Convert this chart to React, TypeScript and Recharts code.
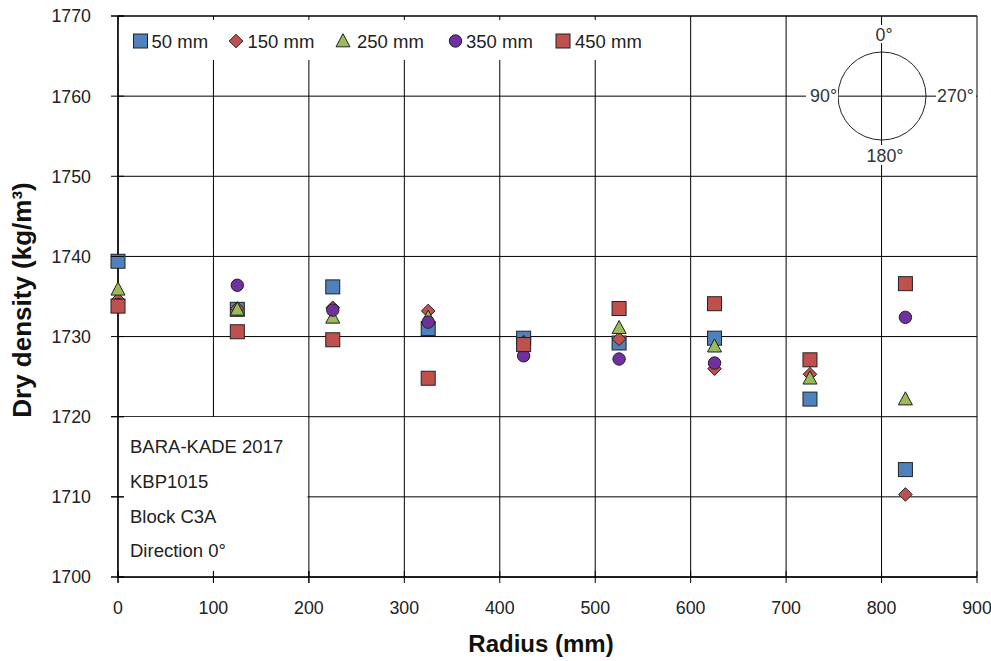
import React from "react";
import {
  ScatterChart,
  Scatter,
  XAxis,
  YAxis,
  CartesianGrid,
  Customized,
} from "recharts";

// values
const radius = [0, 125, 225, 325, 425, 525, 625, 725, 825];
const d50 = [1739.4, 1733.4, 1736.2, 1731.0, 1729.8, 1729.2, 1729.8, 1722.2, 1713.4];
const d150 = [1734.6, 1733.5, 1733.6, 1733.2, 1729.3, 1729.7, 1726.0, 1725.3, 1710.3];
const d250 = [1735.9, 1733.4, 1732.4, 1732.4, 1729.2, 1731.1, 1728.8, 1724.8, 1722.2];
const d350 = [1734.0, 1736.4, 1733.3, 1731.8, 1727.6, 1727.2, 1726.7, 1727.0, 1732.4];
const d450 = [1733.8, 1730.6, 1729.6, 1724.8, 1729.0, 1733.5, 1734.1, 1727.1, 1736.6];

const xTicks = [0, 100, 200, 300, 400, 500, 600, 700, 800, 900];
const yTicks = [1700, 1710, 1720, 1730, 1740, 1750, 1760, 1770];

const infoLines = ["BARA-KADE 2017", "KBP1015", "Block C3A", "Direction 0°"];

const FONT = "'Liberation Sans', Arial, sans-serif";
const LEFT = 118;
const TOP = 16;
const BOTTOM = 577;

const toPoints = (vals: number[]) => radius.map((r, i) => ({ r, v: vals[i] }));

const Square = ({ cx, cy, fill }: any) => (
  <rect x={cx - 7} y={cy - 7} width={14} height={14} fill={fill} stroke="#222" strokeWidth={1} />
);
const Diamond = ({ cx, cy, fill }: any) => (
  <path d={`M${cx},${cy - 6.8}L${cx + 6.8},${cy}L${cx},${cy + 6.8}L${cx - 6.8},${cy}Z`} fill={fill} stroke="#222" strokeWidth={1} />
);
const Triangle = ({ cx, cy, fill }: any) => (
  <path d={`M${cx},${cy - 7.3}L${cx + 7},${cy + 5.8}L${cx - 7},${cy + 5.8}Z`} fill={fill} stroke="#222" strokeWidth={1} />
);
const Circle = ({ cx, cy, fill }: any) => (
  <circle cx={cx} cy={cy} r={6.2} fill={fill} stroke="#222" strokeWidth={1} />
);

const series = [
  { name: "50 mm", data: d50, color: "#4F81BD", Shape: Square },
  { name: "150 mm", data: d150, color: "#C0504D", Shape: Diamond },
  { name: "250 mm", data: d250, color: "#9BBB59", Shape: Triangle },
  { name: "350 mm", data: d350, color: "#7030A0", Shape: Circle },
  { name: "450 mm", data: d450, color: "#C0504D", Shape: Square },
];

const XTick = ({ x, payload }: any) => (
  <g>
    <line x1={x} x2={x} y1={BOTTOM - 6} y2={BOTTOM + 6} stroke="#000" />
    <text x={x} y={614} textAnchor="middle" fontSize={17.8} fontFamily={FONT} fill="#222">
      {payload.value}
    </text>
  </g>
);

const YTick = ({ y, payload }: any) => (
  <g>
    <line x1={LEFT - 7} x2={LEFT + 6} y1={y} y2={y} stroke="#000" />
    <text x={91} y={y + 6.4} textAnchor="end" fontSize={17.8} fontFamily={FONT} fill="#222">
      {payload.value}
    </text>
  </g>
);

// legend marker centres and text starts
const legendMark = [140.5, 236, 343, 455.5, 563];
const legendText = [151.5, 247.5, 357, 466, 575];

// pixel spots of the ticks that sit inside the white boxes
const yOf = (v: number) => TOP + ((1770 - v) * (BOTTOM - TOP)) / 70;
const xOf = (r: number) => LEFT + (r * (977 - LEFT)) / 900;

const Overlay = () => (
  <g fontFamily={FONT}>
    {/* legend box and info box */}
    <rect x={LEFT + 0.5} y={20} width={540} height={40} fill="#fff" />
    <rect x={LEFT + 0.5} y={417} width={189} height={159.5} fill="#fff" />
    {/* axis lines and ticks that those boxes cover */}
    <line x1={LEFT} x2={LEFT} y1={TOP} y2={BOTTOM} stroke="#000" />
    <line x1={LEFT} x2={977} y1={TOP} y2={TOP} stroke="#000" />
    <line x1={LEFT} x2={977} y1={BOTTOM} y2={BOTTOM} stroke="#000" />
    {[1700, 1710, 1720, 1770].map((v) => (
      <line key={v} x1={LEFT - 7} x2={LEFT + 6} y1={yOf(v)} y2={yOf(v)} stroke="#000" />
    ))}
    {[0, 100, 200].map((r) => (
      <line key={r} x1={xOf(r)} x2={xOf(r)} y1={BOTTOM - 6} y2={BOTTOM + 6} stroke="#000" />
    ))}
    {/* legend */}
    {series.map((s, i) => {
      const Shape = s.Shape;
      return (
        <g key={s.name}>
          <Shape cx={legendMark[i]} cy={41} fill={s.color} />
          <text x={legendText[i]} y={47.6} fontSize={18.5} fill="#222">
            {s.name}
          </text>
        </g>
      );
    })}
    {/* info box text */}
    {infoLines.map((t, i) => (
      <text key={t} x={130} y={453.3 + i * 34.7} fontSize={18.5} fill="#222">
        {t}
      </text>
    ))}
    {/* compass */}
    <circle cx={882} cy={96} r={44} fill="none" stroke="#222" strokeWidth={1} />
    <rect x={872} y={25} width={22} height={18} fill="#fff" />
    <text x={884} y={41} textAnchor="middle" fontSize={17.8} fill="#333">0°</text>
    <rect x={806} y={86} width={32} height={20} fill="#fff" />
    <text x={837} y={102} textAnchor="end" fontSize={17.8} fill="#333">90°</text>
    <rect x={936} y={86} width={40} height={20} fill="#fff" />
    <text x={937} y={102} textAnchor="start" fontSize={17.8} fill="#333">270°</text>
    <rect x={864} y={145} width={42} height={20} fill="#fff" />
    <text x={885} y={162} textAnchor="middle" fontSize={17.8} fill="#333">180°</text>
    {/* axis titles */}
    <text x={541} y={652} textAnchor="middle" fontSize={24} fontWeight="bold" fill="#111">
      Radius (mm)
    </text>
    <text
      x={0}
      y={0}
      transform="translate(31,300) rotate(-90)"
      textAnchor="middle"
      fontSize={26}
      fontWeight="bold"
      fill="#111"
    >
      Dry density (kg/m³)
    </text>
  </g>
);

export default function App() {
  return (
    <div style={{ position: "fixed", left: 0, top: 0, width: 991, height: 661, background: "#fff" }}>
      <ScatterChart width={991} height={661} margin={{ top: TOP, right: 14, bottom: 0, left: 0 }}>
        <CartesianGrid stroke="#000" strokeWidth={1} />
        <XAxis
          type="number"
          dataKey="r"
          domain={[0, 900]}
          ticks={xTicks}
          height={84}
          tickLine={false}
          axisLine={{ stroke: "#000" }}
          tick={<XTick />}
          interval={0}
        />
        <YAxis
          type="number"
          dataKey="v"
          domain={[1700, 1770]}
          ticks={yTicks}
          width={118}
          tickLine={false}
          axisLine={{ stroke: "#000" }}
          tick={<YTick />}
          interval={0}
        />
        <Customized component={Overlay} />
        {series.map((s) => (
          <Scatter
            key={s.name}
            name={s.name}
            data={toPoints(s.data)}
            fill={s.color}
            shape={<s.Shape />}
            isAnimationActive={false}
          />
        ))}
      </ScatterChart>
    </div>
  );
}
